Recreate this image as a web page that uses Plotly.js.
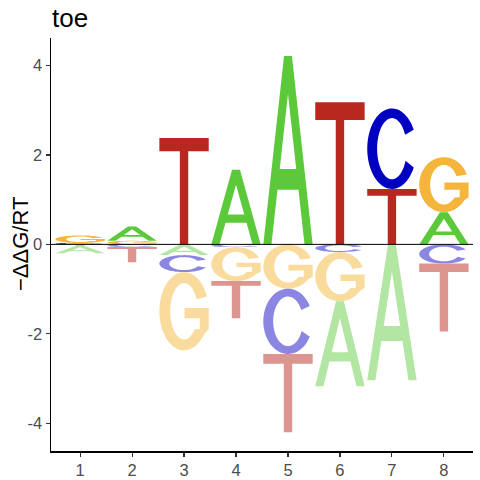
<!DOCTYPE html>
<html>
<head>
<meta charset="utf-8">
<script src="https://cdn.plot.ly/plotly-3.0.1.min.js"></script>
<style>html,body{margin:0;padding:0;background:#fff;}#chart{width:480px;height:480px;}</style>
</head>
<body>
<div id="chart"></div>
<script>
// ---- data: -ΔΔG/RT per position for each base ----
const positions = [1, 2, 3, 4, 5, 6, 7, 8];
const tickLabelsX = ['1', '2', '3', '4', '5', '6', '7', '8'];
const tickValsY = [-4, -2, 0, 2, 4];
const tickLabelsY = ['-4', '-2', '0', '2', '4'];
const letters = ['A', 'C', 'G', 'T'];
const valA = [-0.17, 0.32, -0.24, 1.67, 4.21, -1.90, -3.04, 0.72];
const valC = [0.03, -0.06, -0.38, -0.06, -1.46, -0.17, 1.80, -0.43];
const valG = [0.17, 0.08, -1.75, -0.76, -0.99, -1.10, 0.00, 1.23];
const valT = [-0.03, -0.34, 2.38, -0.83, -1.75, 3.18, 1.24, -1.52];
const values = {A: valA, C: valC, G: valG, T: valT};
const titleText = 'toe';
const yTitleText = '\u2212\u0394\u0394G/RT';

const posColor = {A: '#5CC93B', C: '#0000C0', G: '#F5B53D', T: '#B8281E'};
const negColor = {A: '#B3E6A2', C: '#8A86E2', G: '#FADB9E', T: '#DC958F'};

// ---- glyph outlines in a unit box (0..1 x 0..1) ----
function arc(cx, cy, rx, ry, a0, a1, n) {
  const pts = [];
  for (let i = 0; i <= n; i++) {
    const a = (a0 + (a1 - a0) * i / n) * Math.PI / 180;
    pts.push([cx + rx * Math.cos(a), cy + ry * Math.sin(a)]);
  }
  return pts;
}
const glyphs = {
  A: [
    [[0,0],[0.42,1],[0.58,1],[1,0],[0.835,0],[0.713,0.29],[0.287,0.29],[0.165,0]],
    [[0.333,0.40],[0.667,0.40],[0.5,0.80]]
  ],
  T: [
    [[0,1],[1,1],[1,0.875],[0.585,0.875],[0.585,0],[0.415,0],[0.415,0.875],[0,0.875]]
  ],
  C: [arc(0.5,0.5,0.5,0.5,28,332,60).concat(arc(0.5,0.5,0.30,0.38,337,27,60))],
  G: [arc(0.5,0.5,0.5,0.5,22,325,60)
    .concat([[1,0.27],[1,0.54],[0.51,0.54],[0.51,0.41],[0.82,0.41],[0.82,0.27]])
    .concat(arc(0.5,0.5,0.28,0.36,320,25,60))]
};

const letterWidth = 0.95;
function glyphPath(letter, xc, y0, y1) {
  const x0 = xc - letterWidth / 2;
  return glyphs[letter].map(poly =>
    'M' + poly.map(p => (x0 + p[0] * letterWidth).toFixed(5) + ',' + (y0 + p[1] * (y1 - y0)).toFixed(5)).join('L') + 'Z'
  ).join(' ');
}

const shapes = [];
positions.forEach((pos, i) => {
  const pos_ = letters.filter(l => values[l][i] > 0).sort((a, b) => values[a][i] - values[b][i]);
  const neg_ = letters.filter(l => values[l][i] < 0).sort((a, b) => values[b][i] - values[a][i]);
  let top = 0;
  pos_.forEach(l => {
    const v = values[l][i];
    shapes.push({type: 'path', xref: 'x', yref: 'y', path: glyphPath(l, pos, top, top + v),
      fillcolor: posColor[l], line: {width: 0}, fillrule: 'evenodd', layer: 'above'});
    top += v;
  });
  let bot = 0;
  neg_.forEach(l => {
    const v = values[l][i];
    shapes.push({type: 'path', xref: 'x', yref: 'y', path: glyphPath(l, pos, bot + v, bot),
      fillcolor: negColor[l], line: {width: 0}, fillrule: 'evenodd', layer: 'above'});
    bot += v;
  });
});
shapes.push({type: 'line', xref: 'paper', x0: 0, x1: 1, yref: 'y', y0: 0, y1: 0,
  line: {color: '#000', width: 1}, layer: 'above'});

const fam = 'Liberation Sans, Arial, sans-serif';
const tickFont = {family: fam, size: 16.5, color: '#4D4D4D'};
const layout = {
  width: 480, height: 480,
  margin: {l: 51, r: 7, t: 38, b: 29, pad: 0},
  paper_bgcolor: '#fff', plot_bgcolor: '#fff',
  showlegend: false,
  title: {text: titleText, x: 52 / 480, xref: 'container', xanchor: 'left', y: 1 - 18 / 480, yref: 'container', yanchor: 'middle',
    font: {family: fam, size: 26, color: '#000'}},
  xaxis: {range: [0.44, 8.56], tickmode: 'array', tickvals: positions, ticktext: tickLabelsX,
    showline: true, linecolor: '#000', linewidth: 1.5, ticks: 'outside', ticklen: 4, tickwidth: 1.1, tickcolor: '#333',
    tickfont: tickFont, showgrid: false, zeroline: false, fixedrange: true},
  yaxis: {range: [-4.62, 4.615], tickmode: 'array', tickvals: tickValsY, ticktext: tickLabelsY,
    showline: true, linecolor: '#000', linewidth: 1.5, ticks: 'outside', ticklen: 4, tickwidth: 1.1, tickcolor: '#333',
    tickfont: tickFont, showgrid: false, zeroline: false, fixedrange: true},
  annotations: [{text: yTitleText, textangle: -90, xref: 'paper', yref: 'paper', x: (20.5 - 51) / 422, y: 0.5,
    xanchor: 'center', yanchor: 'middle', showarrow: false, font: {family: fam, size: 22, color: '#000'}}],
  shapes: shapes
};
const traces = [{type: 'scatter', mode: 'markers', x: positions, y: positions.map(() => 0),
  marker: {opacity: 0, size: 1}, hoverinfo: 'skip'}];
Plotly.newPlot('chart', traces, layout, {staticPlot: true, displayModeBar: false});
</script>
</body>
</html>
